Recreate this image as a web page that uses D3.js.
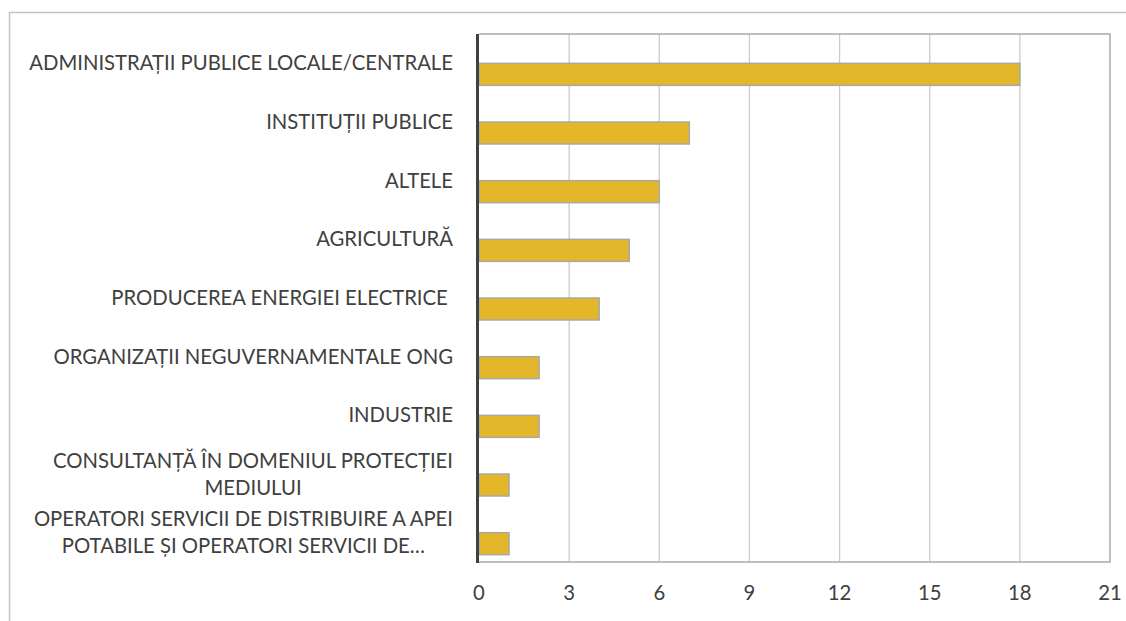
<!DOCTYPE html>
<html>
<head>
<meta charset="utf-8">
<script src="https://cdn.jsdelivr.net/npm/d3@7"></script>
<style>
  html, body { margin: 0; padding: 0; background: #ffffff; }
  svg { display: block; }
  text { font-family: Lato, "Open Sans", sans-serif; fill: #404040; }
</style>
</head>
<body>
<svg id="chart" width="1126" height="621"></svg>
<script>
// Categories, top to bottom; each entry is the list of lines shown for it
const categories = [
  ["ADMINISTRAȚII PUBLICE LOCALE/CENTRALE"],
  ["INSTITUȚII PUBLICE"],
  ["ALTELE"],
  ["AGRICULTURĂ"],
  ["PRODUCEREA ENERGIEI ELECTRICE "],
  ["ORGANIZAȚII NEGUVERNAMENTALE ONG"],
  ["INDUSTRIE"],
  ["CONSULTANȚĂ ÎN DOMENIUL PROTECȚIEI", "MEDIULUI"],
  ["OPERATORI SERVICII DE DISTRIBUIRE A APEI", "POTABILE ȘI OPERATORI SERVICII DE…"]
];
const values = [18, 7, 6, 5, 4, 2, 2, 1, 1];
const xTicks = [0, 3, 6, 9, 12, 15, 18, 21];

const svg = d3.select("#chart");
const plot = { left: 479, right: 1110, top: 34, bottom: 562 };
const fontSize = 20.3;

const keys = categories.map((c, i) => i);

const x = d3.scaleLinear().domain([0, 21]).range([plot.left, plot.right]);
const y = d3.scaleBand().domain(keys).range([plot.top, plot.bottom]).padding(0);

// Outer chart frame (top and left edges visible)
svg.append("path")
  .attr("d", "M9.5,621 L9.5,12.5 L1126,12.5")
  .attr("fill", "none")
  .attr("stroke", "#c4c4c4")
  .attr("stroke-width", 1.5);

// Vertical gridlines
svg.append("g")
  .selectAll("line")
  .data(xTicks.filter(t => t > 0 && t < 21))
  .join("line")
  .attr("x1", d => x(d)).attr("x2", d => x(d))
  .attr("y1", plot.top).attr("y2", plot.bottom)
  .attr("stroke", "#cccccc")
  .attr("stroke-width", 1.3);

// Plot area border on top, right and bottom
svg.append("path")
  .attr("d", `M${plot.left},${plot.top} L${plot.right},${plot.top} L${plot.right},${plot.bottom} L${plot.left},${plot.bottom}`)
  .attr("fill", "none")
  .attr("stroke", "#ababab")
  .attr("stroke-width", 1.5);

// Bars sit in the lower half of each category band
const barH = y.bandwidth() * 0.375;
svg.append("g")
  .selectAll("rect")
  .data(values)
  .join("rect")
  .attr("x", x(0))
  .attr("y", (d, i) => y(i) + y.bandwidth() / 2)
  .attr("width", d => x(d) - x(0))
  .attr("height", barH)
  .attr("fill", "#e4b72a")
  .attr("stroke", "#a8a8a8")
  .attr("stroke-width", 1.5);

// Category axis line at zero
svg.append("line")
  .attr("x1", x(0) - 1.5).attr("x2", x(0) - 1.5)
  .attr("y1", plot.top).attr("y2", plot.bottom + 1)
  .attr("stroke", "#404040")
  .attr("stroke-width", 3);

// Category labels: right-aligned block, multi-line entries centered within it
const labelRight = 453;
const lineGap = 27;
const labels = svg.append("g").attr("font-size", fontSize);
categories.forEach((lines, i) => {
  const cy = y(i) + y.bandwidth() / 2;
  const g = labels.append("g");
  const texts = lines.map((line, j) =>
    g.append("text")
      .attr("y", cy + (j - (lines.length - 1) / 2) * lineGap)
      .attr("dy", "0.35em")
      .attr("xml:space", "preserve")
      .text(line));
  const widths = texts.map(t => t.node().getComputedTextLength());
  const maxW = d3.max(widths);
  texts.forEach((t, j) => {
    t.attr("x", labelRight - maxW / 2 - widths[j] / 2);
  });
});

// Value axis tick labels
svg.append("g")
  .attr("font-size", fontSize)
  .selectAll("text")
  .data(xTicks)
  .join("text")
  .attr("x", d => x(d))
  .attr("y", 593)
  .attr("dy", "0.35em")
  .attr("text-anchor", "middle")
  .text(d => d);
</script>
</body>
</html>
